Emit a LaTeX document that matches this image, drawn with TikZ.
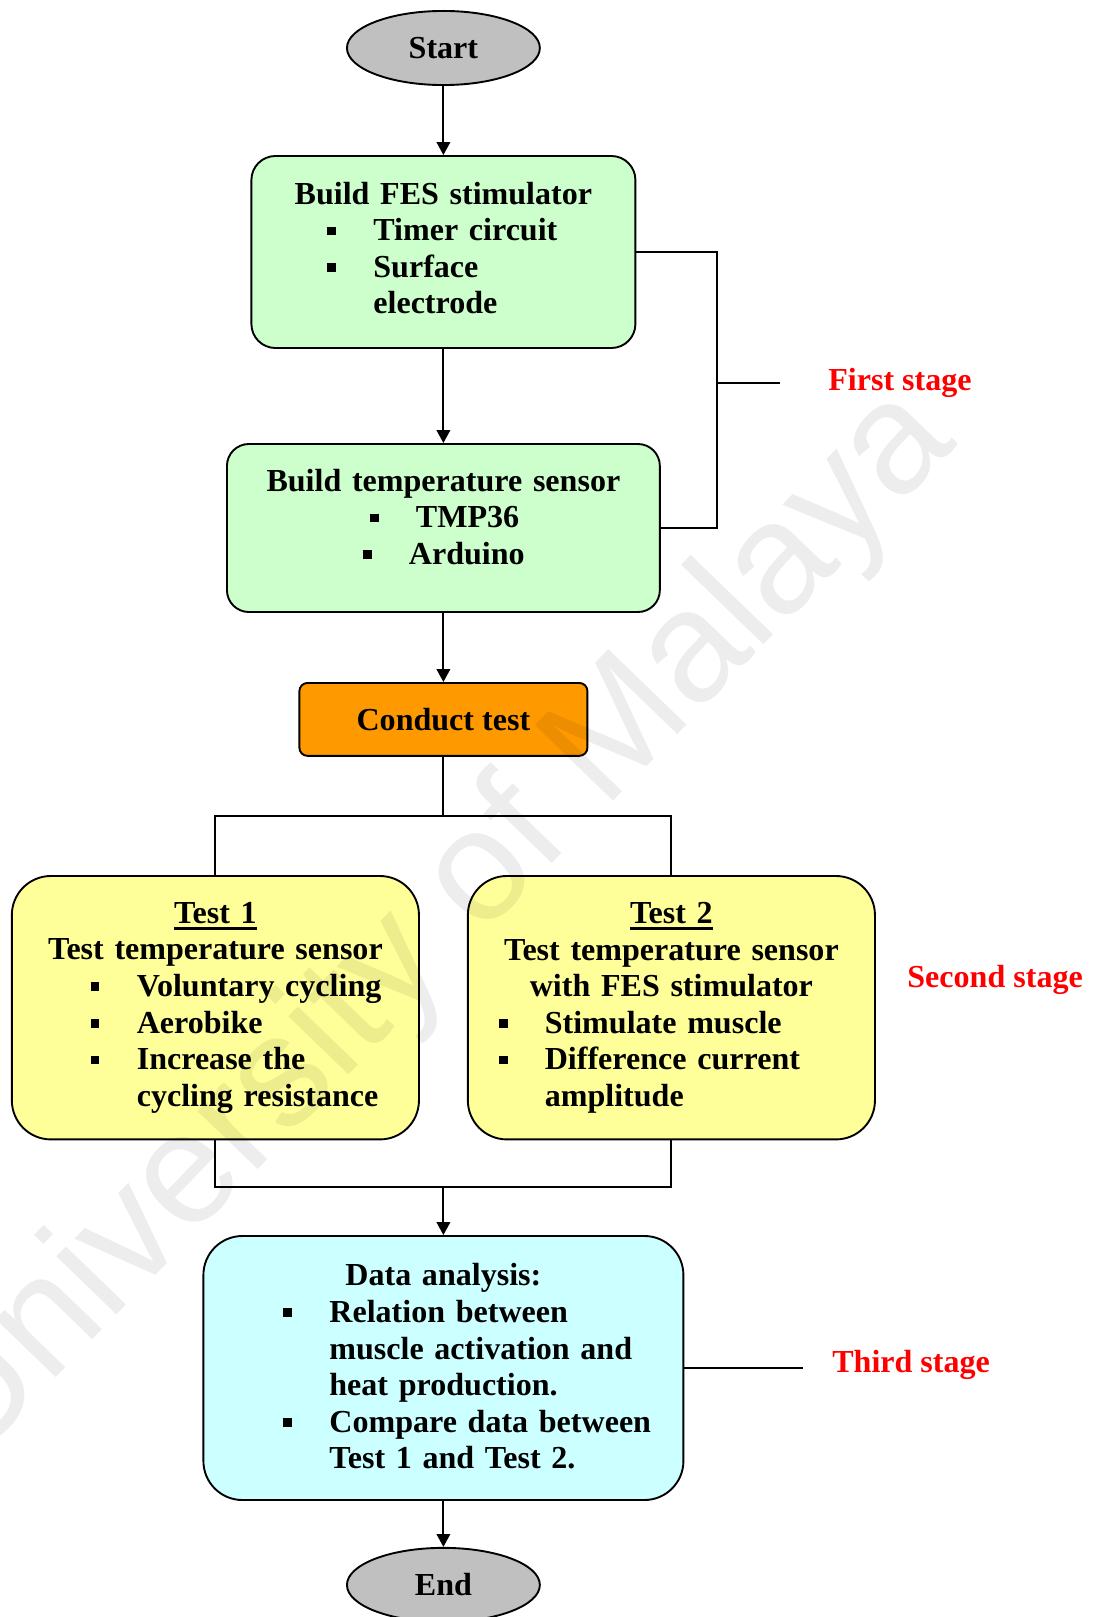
\documentclass[tikz,border=0pt]{standalone}
\usepackage{fontspec}
\setmainfont{Liberation Serif}
\newfontfamily\wmfont{Liberation Sans}
\usetikzlibrary{arrows.meta, positioning, shapes.geometric, calc}
\definecolor{cgreen}{HTML}{CCFFCC}
\definecolor{corange}{HTML}{FF9900}
\definecolor{cyellow}{HTML}{FFFF99}
\definecolor{ccyan}{HTML}{CCFFFF}
\definecolor{cgrey}{HTML}{C0C0C0}
\definecolor{cred}{HTML}{FF0000}
\setlength{\parindent}{0pt}
\newlength{\ulwd}
\newcommand{\ulbold}[1]{\settowidth{\ulwd}{#1}\makebox[0pt][l]{\rule[-0.22cm]{\ulwd}{0.1cm}}#1}
\newcommand{\sqbul}{\rule[0.17em]{0.27em}{0.27em}}
\newcommand{\bline}[2]{\par\hspace*{#1}\makebox[1.533cm][l]{\sqbul}#2}
\newcommand{\contline}[2]{\par\hspace*{#1}\hspace*{1.533cm}#2}
\newcommand{\lowpad}[1]{\rule[-#1]{0pt}{#1}}
\tikzset{
  every picture/.style={font=\bfseries\fontsize{30.4pt}{34.7pt}\selectfont, line width=1.8pt},
  stage/.style={draw, fill=#1, inner sep=0pt, align=left},
  term/.style={ellipse, draw, fill=cgrey, minimum width=6.43cm, minimum height=2.47cm, inner sep=0pt},
  arrow/.style={-{Triangle[length=0.43cm, width=0.45cm]}},
  tag/.style={text=cred},
}

\begin{document}
\begin{tikzpicture}[watermark/.style={font=\wmfont\fontsize{150pt}{170pt}\selectfont, text=black, text opacity=0.07, rotate=46}]
  \useasboundingbox (0,0) rectangle (36.667,-53.9);
  \node[term] (start) at (14.78,-1.6) {Start};
  \node[stage=cgreen, text width=12.8cm, minimum height=6.4cm, rounded corners=0.8cm] (fes) at (14.78,-8.4) {{\centering Build FES stimulator\par}\bline{2.533cm}{Timer circuit}\bline{2.533cm}{Surface}\contline{2.533cm}{electrode\lowpad{0.27cm}}};
  \node[stage=cgreen, text width=14.43cm, minimum height=5.6cm, rounded corners=0.73cm] (sensor) at (14.78,-17.6) {{\centering Build temperature sensor\par}\bline{4.767cm}{TMP36}\bline{4.533cm}{Arduino\lowpad{0.75cm}}};
  \node[draw, fill=corange, minimum width=9.6cm, minimum height=2.43cm, rounded corners=0.27cm, inner sep=0pt] (conduct) at (14.78,-23.98) {Conduct test};
  \node[stage=cyellow, text width=13.57cm, minimum height=8.78cm, rounded corners=1.3cm] (test1) at (7.18,-33.59) {{\centering\ulbold{Test 1}\par Test temperature sensor\par}\bline{2.633cm}{Voluntary cycling}\bline{2.633cm}{Aerobike}\bline{2.633cm}{Increase the}\contline{2.633cm}{cycling resistance}};
  \node[stage=cyellow, text width=13.57cm, minimum height=8.78cm, rounded corners=1.3cm] (test2) at (22.38,-33.59) {{\centering\ulbold{Test 2}\par Test temperature sensor\par with FES stimulator\par}\bline{1.033cm}{Stimulate muscle}\bline{1.033cm}{Difference current}\contline{1.033cm}{amplitude}};
  \node[stage=ccyan, text width=16cm, minimum height=8.8cm, rounded corners=1.3cm] (data) at (14.78,-45.6) {{\centering Data analysis:\par}\bline{2.667cm}{Relation between}\contline{2.667cm}{muscle activation and}\contline{2.667cm}{heat production.}\bline{2.667cm}{Compare data between}\contline{2.667cm}{Test 1 and Test 2.\lowpad{0.12cm}}};
  \node[term] (end) at (14.78,-52.83) {End};
  \foreach \a/\b in {start/fes, fes/sensor, sensor/conduct} {
    \draw[arrow] (\a) -- (\b);
  }
  \coordinate (split) at (14.78,-27.2);
  \coordinate (join) at (14.78,-39.58);
  \draw (conduct) -- (split);
  \draw (test1) |- (split) -| (test2);
  \draw (test1) |- (join) -| (test2);
  \draw[arrow] (join) -- (data);
  \draw[arrow] (data) -- (end);
  \coordinate (brk) at (23.9,-12.77);
  \coordinate (tick1) at (26.0,-12.77);
  \coordinate (tick3) at (26.78,-45.6);
  \draw (fes.east) -| (brk) |- (sensor.east);
  \draw (brk) -- (tick1);
  \draw (data.east) -- (tick3);
  \node[tag] (first) at (30.0,-12.77) {First stage};
  \node[tag] (second) at (33.17,-32.68) {Second stage};
  \node[tag] (third) at (30.37,-45.5) {Third stage};
  \node[watermark] (wm) at (14.48,-30.91) {University of Malaya};
\end{tikzpicture}
\end{document}
